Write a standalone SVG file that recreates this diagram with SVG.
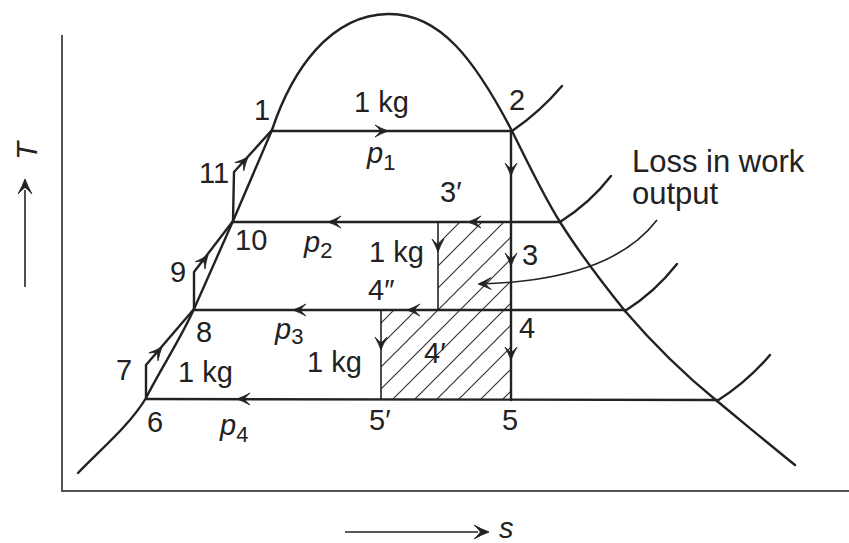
<svg xmlns="http://www.w3.org/2000/svg" width="849" height="543" viewBox="0 0 849 543">
<style>
.ax{stroke:#555;stroke-width:2;fill:none}
.ln{stroke:#222;stroke-width:2.4;fill:none;stroke-linecap:round;stroke-linejoin:round}
.th{stroke:#222;stroke-width:1.6;fill:none}
.ht{stroke:#333;stroke-width:1.2;fill:none}
text{font-family:"Liberation Sans",Arial,sans-serif;font-size:29px;fill:#222}
.it{font-style:italic}
.sub{font-size:22px}
.ah{fill:#222;stroke:#222;stroke-width:0.8}
</style>
<defs>
<path id="ah" d="M0,0 Q-6.5,-2.4 -13,-6 Q-8,-1.3 -7.5,0 Q-8,1.3 -13,6 Q-6.5,2.4 0,0 Z"/>
<pattern id="hatch" width="22" height="22" patternUnits="userSpaceOnUse">
<path class="ht" d="M-2,2 L2,-2 M0,22 L22,0 M20,24 L24,20"/>
</pattern>
<clipPath id="hclip"><polygon points="438,222 510,222 510,400 381,400 381,310 438,310"/></clipPath>
</defs>
<rect width="849" height="543" fill="#fff"/>

<g id="axes">
<polyline class="ax" points="62,35 62,491 849,491"/>
<line class="th" x1="25" y1="287" x2="25" y2="190" stroke="#444"/>
<use href="#ah" class="ah" transform="translate(25,179) rotate(-90) scale(1.15)"/>
<text class="it" transform="translate(37,151) rotate(-90)" text-anchor="middle">T</text>
<line class="th" x1="345" y1="532" x2="478" y2="532" stroke="#444"/>
<use href="#ah" class="ah" transform="translate(489,532) scale(1.15)"/>
<text class="it" x="499" y="538">s</text>
</g>

<g id="hatching">
<rect x="370" y="215" width="150" height="190" fill="url(#hatch)" clip-path="url(#hclip)"/>
</g>

<g id="dome">
<path class="ln" d="M78,473 C100,450 130,425 146,398 C160,370 180,340 194,309 L233,221 L272,130 C292,70 330,15 388,14 C440,13 475,60 512,131 C528,163 543,195 560,222 C577,249 600,280 625,311 C655,346 685,375 717,401 C745,424 770,445 795,465"/>
</g>

<g id="superheat">
<path class="ln" d="M512,131 Q540,112 562,86"/>
<path class="ln" d="M560,222 Q590,203 611,176"/>
<path class="ln" d="M625,311 Q655,292 677,264"/>
<path class="ln" d="M717,401 Q747,382 770,355"/>
</g>

<g id="connectors">
<line class="ln" x1="272" y1="131" x2="512" y2="131"/>
<line class="ln" x1="233" y1="222" x2="560" y2="222"/>
<line class="ln" x1="194" y1="310" x2="625" y2="310"/>
<line class="ln" x1="146" y1="399" x2="717" y2="400"/>
<line class="ln" x1="511" y1="131" x2="511" y2="400"/>
<line class="th" x1="438" y1="222" x2="438" y2="310"/>
<line class="th" x1="381" y1="310" x2="381" y2="400"/>
<polyline class="ln" points="146,398 146,365 194,309"/>
<polyline class="ln" points="194,309 194,272 233,221"/>
<polyline class="ln" points="233,221 234,172 272,130"/>
<path class="th" d="M657,220 C630,255 580,281 480,284"/>
<use href="#ah" class="ah" transform="translate(388,131)"/>
<use href="#ah" class="ah" transform="translate(511,176) rotate(90)"/>
<use href="#ah" class="ah" transform="translate(511,266) rotate(90)"/>
<use href="#ah" class="ah" transform="translate(511,360) rotate(90)"/>
<use href="#ah" class="ah" transform="translate(468,222) rotate(180)"/>
<use href="#ah" class="ah" transform="translate(328,222) rotate(180)"/>
<use href="#ah" class="ah" transform="translate(438,252) rotate(90)"/>
<use href="#ah" class="ah" transform="translate(407,310) rotate(180)"/>
<use href="#ah" class="ah" transform="translate(293,310) rotate(180)"/>
<use href="#ah" class="ah" transform="translate(381,350) rotate(90)"/>
<use href="#ah" class="ah" transform="translate(237,399) rotate(180)"/>
<use href="#ah" class="ah" transform="translate(162,347) rotate(-49)"/>
<use href="#ah" class="ah" transform="translate(208,255) rotate(-53)"/>
<use href="#ah" class="ah" transform="translate(248,157) rotate(-48)"/>
<use href="#ah" class="ah" transform="translate(478,284) rotate(178)"/>
</g>

<g id="labels">
<text x="254" y="120">1</text>
<text x="354" y="112">1 kg</text>
<text x="509" y="110">2</text>
<text x="367" y="163"><tspan class="it">p</tspan><tspan class="sub" dy="7">1</tspan></text>
<text x="440" y="202">3′</text>
<text x="632" y="172" style="font-size:31px">Loss in work</text>
<text x="632" y="204" style="font-size:31px">output</text>
<text x="199" y="183">11</text>
<text x="235" y="250">10</text>
<text x="170" y="282">9</text>
<text x="304" y="252"><tspan class="it">p</tspan><tspan class="sub" dy="6">2</tspan></text>
<text x="369" y="262">1 kg</text>
<text x="522" y="265">3</text>
<text x="368" y="300">4″</text>
<text x="196" y="342">8</text>
<text x="275" y="339"><tspan class="it">p</tspan><tspan class="sub" dy="5">3</tspan></text>
<text x="116" y="380">7</text>
<text x="178" y="382">1 kg</text>
<text x="307" y="372">1 kg</text>
<text x="424" y="363">4′</text>
<text x="519" y="338">4</text>
<text x="147" y="432">6</text>
<text x="220" y="435"><tspan class="it">p</tspan><tspan class="sub" dy="7">4</tspan></text>
<text x="369" y="430">5′</text>
<text x="502" y="430">5</text>
</g>
</svg>
